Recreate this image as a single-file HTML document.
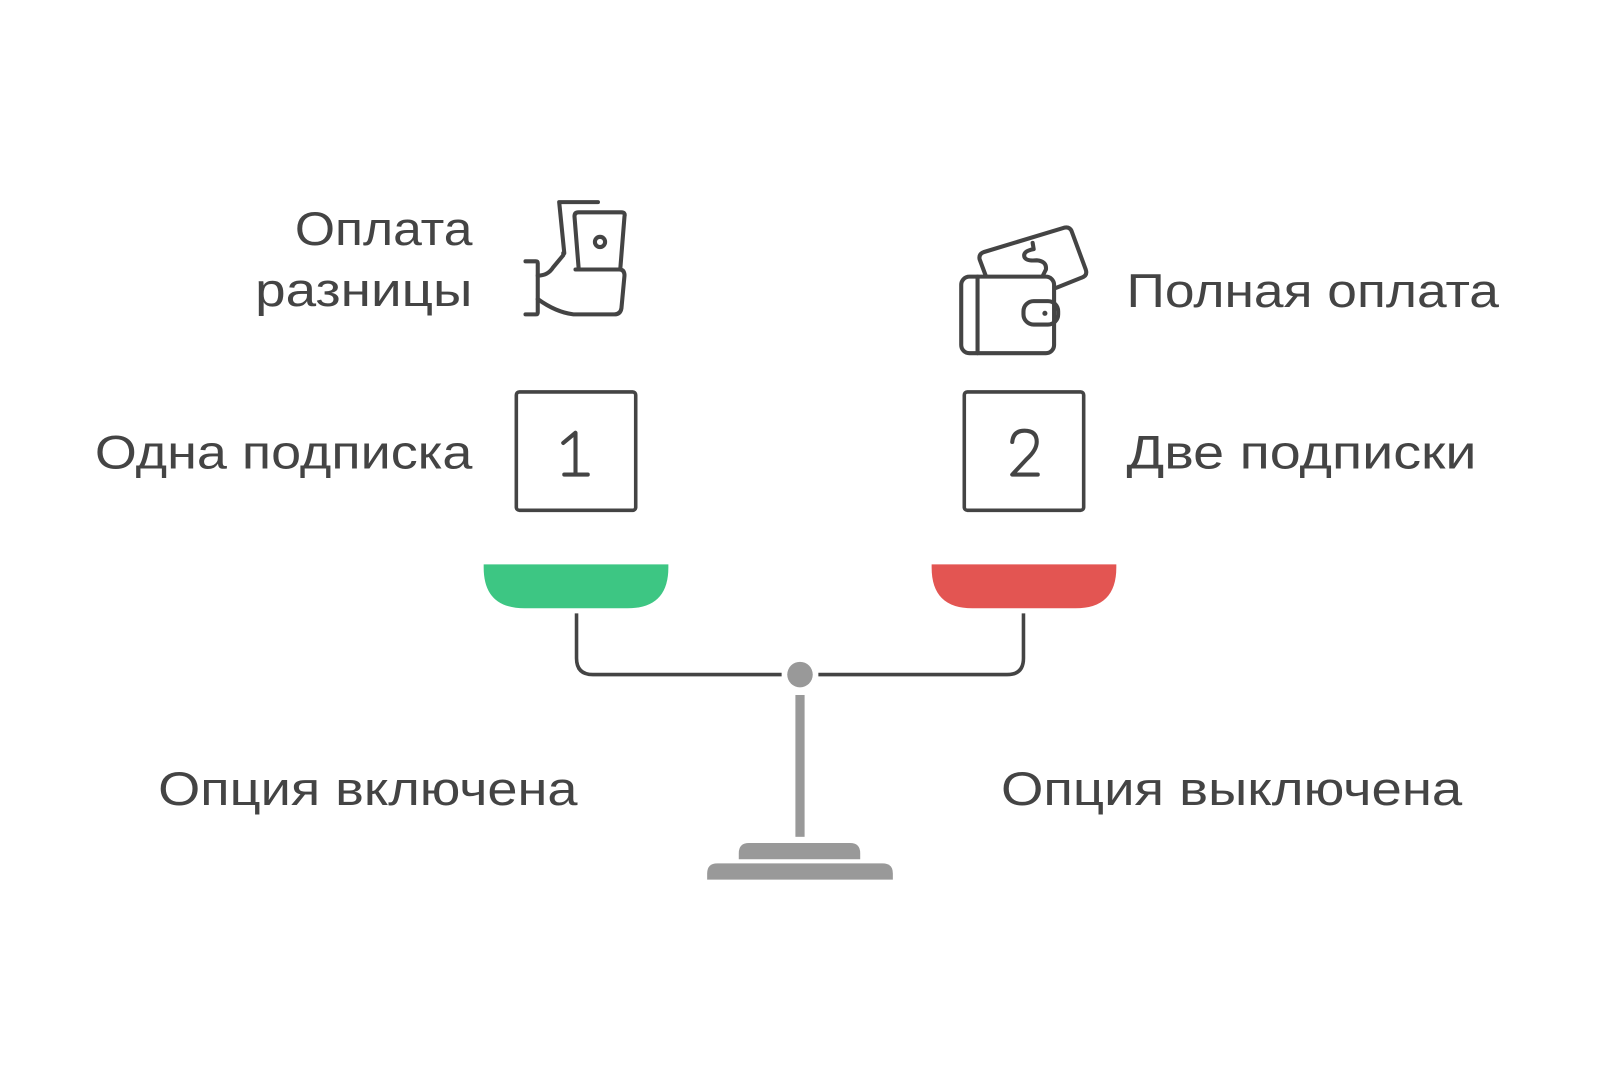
<!DOCTYPE html>
<html><head><meta charset="utf-8"><style>
html,body{margin:0;padding:0;background:#fff;}
svg{display:block;}
text{font-family:"Liberation Sans","DejaVu Sans",sans-serif;fill:#444;font-size:46px;}
</style></head><body>
<svg width="1600" height="1091" viewBox="0 0 1568 1069" xmlns="http://www.w3.org/2000/svg">
<rect width="1568" height="1069" fill="#fff"/>
<text x="463" y="240" text-anchor="end" textLength="174" lengthAdjust="spacingAndGlyphs">Оплата</text>
<text x="463" y="300" text-anchor="end" textLength="213" lengthAdjust="spacingAndGlyphs">разницы</text>
<text x="93" y="459" textLength="370" lengthAdjust="spacingAndGlyphs">Одна подписка</text>
<text x="1104" y="301" textLength="365" lengthAdjust="spacingAndGlyphs">Полная оплата</text>
<text x="1104" y="459" textLength="343" lengthAdjust="spacingAndGlyphs">Две подписки</text>
<text x="155" y="789" textLength="411" lengthAdjust="spacingAndGlyphs">Опция включена</text>
<text x="981" y="789" textLength="452" lengthAdjust="spacingAndGlyphs">Опция выключена</text>
<g fill="none" stroke="#444" stroke-width="3.5">
<rect x="506" y="384" width="117" height="116" rx="3"/>
<rect x="945" y="384" width="117" height="116" rx="3"/>
</g>
<g fill="none" stroke="#444" stroke-width="4" stroke-linecap="round" stroke-linejoin="round">
<path d="M552 434 L564 424 L564 465 M553 465 L576 465"/>
<path d="M992 433 Q993 422 1004 422 Q1016 422 1016 433 Q1016 441 1006 450 L992 465 L1017 465"/>
</g>
<path d="M474 553 H655 V556 Q655 596 615 596 H514 Q474 596 474 556 Z" fill="#3dc683"/>
<path d="M913 553 H1094 V556 Q1094 596 1054 596 H953 Q913 596 913 556 Z" fill="#e35552"/>
<g fill="none" stroke="#444" stroke-width="3.5">
<path d="M565 601 V645 Q565 661 581 661 H766"/>
<path d="M1003 601 V645 Q1003 661 987 661 H802"/>
</g>
<circle cx="784" cy="661" r="12.5" fill="#999"/>
<rect x="779.5" y="681" width="9" height="139" fill="#999"/>
<path d="M724 842 V836 Q724 826 734 826 H833 Q843 826 843 836 V842 Z" fill="#999"/>
<path d="M693 862 V856 Q693 846 703 846 H865 Q875 846 875 856 V862 Z" fill="#999"/>
<g fill="none" stroke="#444" stroke-width="4" stroke-linecap="round" stroke-linejoin="round">
<path d="M515 256 H525 Q527 256 527 258 V306 Q527 308 525 308 H515"/>
<path d="M527 270 Q537 270 542 262 L552 250 V248"/>
<path d="M548 198 H586 M548 198 L553 248"/>
<path d="M564 264 H607 Q612 264 612 270 L609 302 Q608 308 602 308 H562 Q545 306 527 293"/>
<path d="M567 262 L563 212 Q563 208 567 208 H609 Q613 208 612 212 L608 262"/>
<circle cx="588" cy="237" r="5"/>
</g>
<g fill="none" stroke="#444" stroke-width="4" stroke-linecap="round" stroke-linejoin="round">
<path d="M966 270 L960 254 Q959 249 964 247 L1043 223 Q1048 222 1050 226 L1064 264 Q1066 270 1060 272 L1035 282"/>
<rect x="942" y="271" width="91" height="75" rx="8"/>
<path d="M958 271 V346"/>
<rect x="1003" y="295" width="34" height="23" rx="10"/>
<path d="M1013 244 L1012 238 M1013 244 Q1002 246 1004 252 Q1006 256 1016 255 Q1026 256 1025 264 L1022 270"/>
</g>
<circle cx="1024" cy="307" r="2.5" fill="#444"/>
</svg>
</body></html>
